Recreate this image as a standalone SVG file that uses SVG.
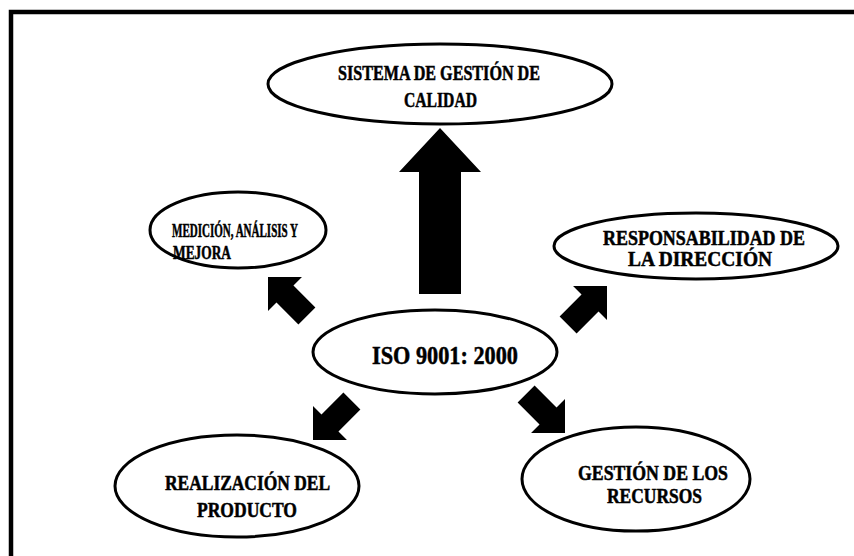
<svg xmlns="http://www.w3.org/2000/svg" width="854" height="556" viewBox="0 0 854 556">
  <style>
    .node ellipse { fill: #ffffff; stroke: #000000; stroke-width: 3; }
    .node text { font-family: "Liberation Serif", "Times New Roman", serif; font-weight: bold; fill: #000000; stroke: #000000; stroke-width: 0.5; }
    .lbl { font-size: 20px; }
    .small { font-size: 18px; }
    .big { font-size: 25px; }
    .frame { stroke: #000000; stroke-width: 4.5; fill: none; }
    .arrow { fill: #000000; }
  </style>
  <defs>
    <!-- Block arrows pointing up, tip at origin -->
    <polygon id="arrow-small" points="0,0 24,24 12,24 12,55 -12,55 -12,24 -24,24"/>
    <polygon id="arrow-big" points="0,0 41,44 21,44 21,166 -21,166 -21,44 -41,44"/>
  </defs>

  <rect width="854" height="556" fill="#ffffff"/>

  <!-- page frame -->
  <path class="frame" d="M11,556 L11,12 L854,12"/>

  <!-- connectors -->
  <g id="connectors" class="arrow">
    <use href="#arrow-big" transform="translate(440,128)"/>
    <use href="#arrow-small" transform="translate(268,277) rotate(-45)"/>
    <use href="#arrow-small" transform="translate(607,286) rotate(45)"/>
    <use href="#arrow-small" transform="translate(313,440) rotate(-135)"/>
    <use href="#arrow-small" transform="translate(565,433) rotate(135)"/>
  </g>

  <g id="node-sgc" class="node">
    <ellipse cx="440" cy="84" rx="172" ry="40"/>
    <text class="lbl" x="338" y="80" textLength="202" lengthAdjust="spacingAndGlyphs">SISTEMA DE GESTIÓN DE</text>
    <text class="lbl" x="404" y="107" textLength="73" lengthAdjust="spacingAndGlyphs">CALIDAD</text>
  </g>

  <g id="node-medicion" class="node">
    <ellipse cx="238" cy="230" rx="88" ry="38"/>
    <text class="small" x="172" y="237" textLength="126" lengthAdjust="spacingAndGlyphs">MEDICIÓN, ANÁLISIS Y</text>
    <text class="small" x="173" y="259" textLength="58" lengthAdjust="spacingAndGlyphs">MEJORA</text>
  </g>

  <g id="node-responsabilidad" class="node">
    <ellipse cx="696" cy="246" rx="142" ry="33"/>
    <text class="lbl" x="603" y="245" textLength="202" lengthAdjust="spacingAndGlyphs">RESPONSABILIDAD DE</text>
    <text class="lbl" x="628" y="266" textLength="144" lengthAdjust="spacingAndGlyphs">LA DIRECCIÓN</text>
  </g>

  <g id="node-iso" class="node">
    <ellipse cx="435" cy="352" rx="122" ry="42"/>
    <text class="big" x="372" y="364" textLength="146" lengthAdjust="spacingAndGlyphs">ISO 9001: 2000</text>
  </g>

  <g id="node-realizacion" class="node">
    <ellipse cx="237" cy="486" rx="122" ry="51"/>
    <text class="lbl" x="165" y="490" textLength="165" lengthAdjust="spacingAndGlyphs">REALIZACIÓN DEL</text>
    <text class="lbl" x="197" y="517" textLength="100" lengthAdjust="spacingAndGlyphs">PRODUCTO</text>
  </g>

  <g id="node-recursos" class="node">
    <ellipse cx="636" cy="479" rx="114" ry="52"/>
    <text class="lbl" x="578" y="480" textLength="150" lengthAdjust="spacingAndGlyphs">GESTIÓN DE LOS</text>
    <text class="lbl" x="607" y="503" textLength="95" lengthAdjust="spacingAndGlyphs">RECURSOS</text>
  </g>
</svg>
